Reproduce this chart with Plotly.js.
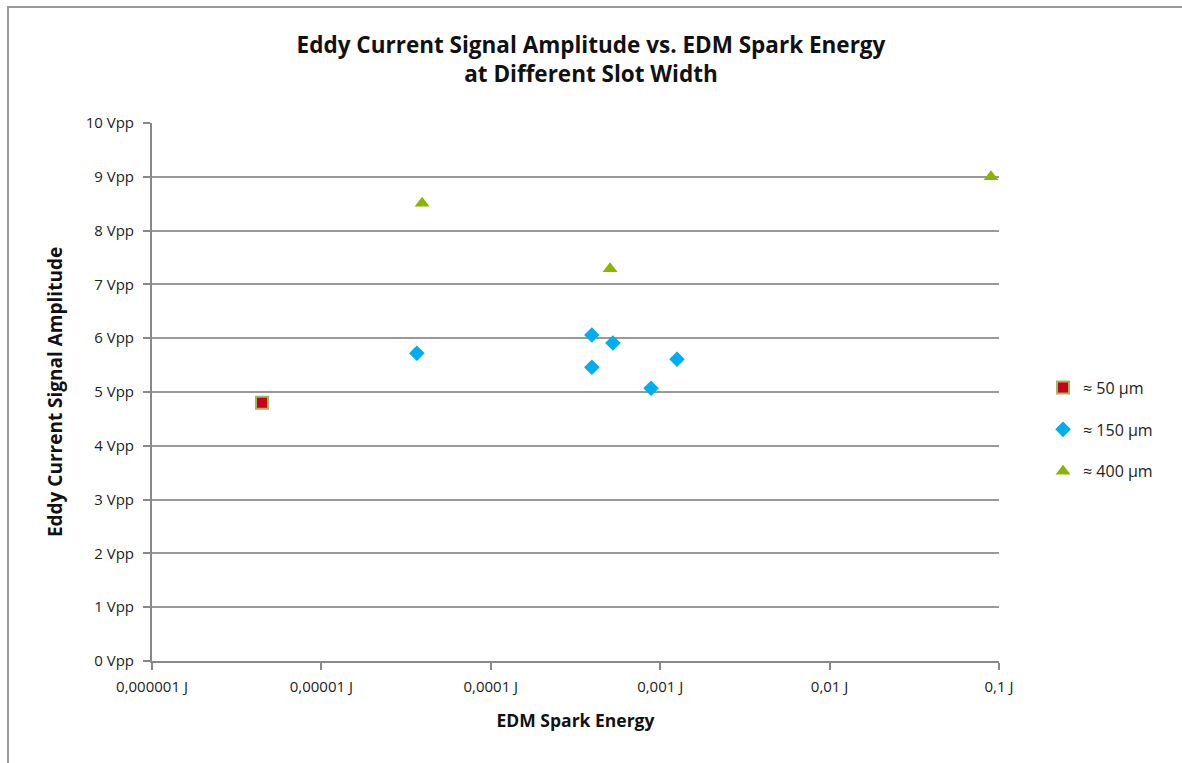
<!DOCTYPE html>
<html><head><meta charset="utf-8">
<script src="https://cdn.plot.ly/plotly-3.0.1.min.js"></script>
<style>
html,body{margin:0;padding:0;background:#fff;}
#wrap{position:relative;width:1182px;height:763px;overflow:hidden;}
#chart{position:absolute;left:0;top:0;width:1182px;height:763px;}
#frame{position:absolute;left:7px;top:6px;width:1300px;height:900px;border-left:2px solid #999;border-top:2px solid #999;pointer-events:none;}
</style></head>
<body><div id="wrap"><div id="chart"></div><div id="frame"></div></div>
<script>
const seriesNames = ['≈ 50 µm', '≈ 150 µm', '≈ 400 µm'];
const s50_x = [4.46e-6];
const s50_y = [4.80];
const s150_x = [3.66e-5, 3.95e-4, 3.95e-4, 5.26e-4, 8.83e-4, 1.256e-3];
const s150_y = [5.72, 6.06, 5.46, 5.91, 5.07, 5.61];
const s400_x = [3.93e-5, 5.06e-4, 0.0897];
const s400_y = [8.51, 7.29, 9.00];
const xTickVals = [1e-6, 1e-5, 1e-4, 1e-3, 1e-2, 1e-1];
const xTickText = ['0,000001 J', '0,00001 J', '0,0001 J', '0,001 J', '0,01 J', '0,1 J'];
const yTickVals = [0,1,2,3,4,5,6,7,8,9,10];
const yTickText = yTickVals.map(v => v + ' Vpp');

const font = '"Open Sans", Roboto, sans-serif';
const traces = [
  {x: s50_x, y: s50_y, name: seriesNames[0], mode: 'markers', type: 'scatter', legendgroup: 'a',
   marker: {symbol: 'square', size: 12, color: '#C8001E', line: {color: '#9BBB59', width: 2}}},
  {x: s150_x, y: s150_y, name: seriesNames[1], mode: 'markers', type: 'scatter', legendgroup: 'b',
   marker: {symbol: 'diamond', size: 12, color: '#00AEEF'}},
  {x: s400_x, y: s400_y, name: seriesNames[2], mode: 'markers', type: 'scatter', legendgroup: 'c',
   marker: {symbol: 'triangle-up', size: 13, color: '#8DB400'}}
];
const layout = {
  width: 1182, height: 763,
  margin: {l: 152, r: 183, t: 123, b: 102},
  paper_bgcolor: '#fff', plot_bgcolor: '#fff',
  font: {family: font, size: 15, color: '#222'},
  title: {text: '<b>Eddy Current Signal Amplitude vs. EDM Spark Energy<br>at Different Slot Width</b>',
          font: {family: font, size: 22.5, color: '#111'}, x: 0.5, xanchor: 'center', y: 0.931, yanchor: 'top'},
  xaxis: {type: 'log', range: [-6, -1], tickvals: xTickVals, ticktext: xTickText,
          showgrid: false, zeroline: false, showline: true, linecolor: '#888', linewidth: 2,
          ticks: 'outside', ticklen: 7, tickwidth: 2, tickcolor: '#888', ticklabelstandoff: 4,
          tickfont: {family: font, size: 15, color: '#222'},
          title: {text: '<b>EDM Spark Energy</b>', font: {family: font, size: 17.5, color: '#111'}, standoff: 20}},
  yaxis: {range: [0, 10], tickvals: yTickVals, ticktext: yTickText,
          showgrid: true, gridcolor: '#999', gridwidth: 2, zeroline: false,
          showline: true, linecolor: '#888', linewidth: 2,
          ticks: 'outside', ticklen: 7, tickwidth: 2, tickcolor: '#888', ticklabelstandoff: 6,
          tickfont: {family: font, size: 15, color: '#222'},
          title: {text: '<b>Eddy Current Signal Amplitude</b>', font: {family: font, size: 19, color: '#111'}, standoff: 18}},
  legend: {x: 1.052, xanchor: 'left', y: 0.43, yanchor: 'middle', tracegroupgap: 18,
           font: {family: font, size: 16, color: '#222'}, bgcolor: 'rgba(0,0,0,0)'},
  showlegend: true
};
Plotly.newPlot('chart', traces, layout, {displayModeBar: false, staticPlot: true});
</script></body></html>
